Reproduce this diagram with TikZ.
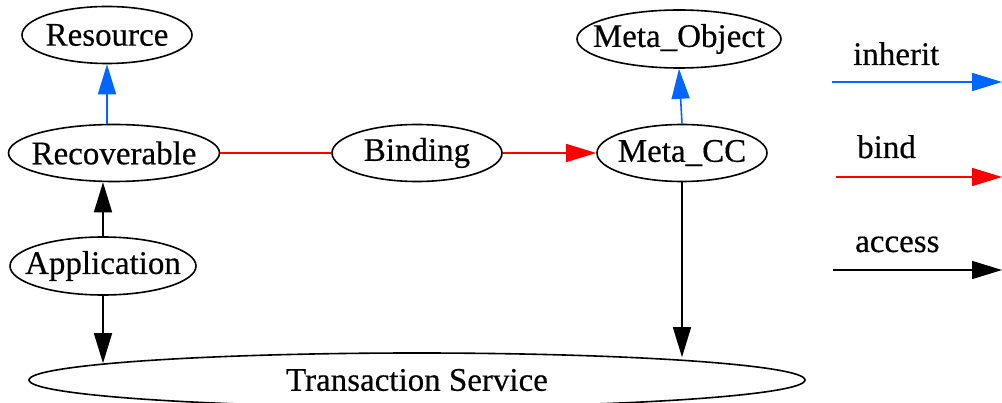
\documentclass[tikz,border=0pt]{standalone}
\usepackage{fontspec}
\setmainfont{Liberation Serif}[FakeBold=0.4]
\usepackage{tikz}
\usetikzlibrary{shapes.geometric,arrows.meta,positioning}

\definecolor{inheritblue}{RGB}{0,102,255}

\tikzset{
  obj/.style={draw, ellipse, line width=1.6pt, inner xsep=-20pt, inner ysep=0pt,
    minimum width=170pt, minimum height=57pt, font=\fontsize{33}{38}\selectfont},
  legend/.style={anchor=base west, inner sep=0pt, font=\fontsize{33}{38}\selectfont},
  tip/.style={-{Triangle[length=30pt,width=18pt]}},
  inherit/.style={tip, inheritblue, line width=1.6pt},
  bind/.style={red, line width=1.6pt},
  access/.style={tip, black, line width=1.6pt}
}

\begin{document}
\begin{tikzpicture}[x=1pt, y=-1pt]
        \useasboundingbox (0,0) rectangle (1002,403);

        \node[obj] (res) at (107,35) {Resource};
        \node[obj, minimum width=211pt] (rec) at (114,153) {Recoverable};
        \node[obj, minimum width=186pt, minimum height=58pt] (app) at (103,266) {Application};
        \node[obj] (bnd) at (417,153) {Binding};
        \node[obj] (mcc) at (682,153) {Meta\_CC};
        \node[obj, minimum width=204pt, minimum height=58pt] (mob) at (679,39) {Meta\_Object};
        \node[obj, minimum width=776pt, minimum height=54pt] (ts) at (417,380) {Transaction Service};

        % legend
        \node[legend] (inhtext) at (853,65) {inherit};
        \node[legend] (bndtext) at (857,158) {bind};
        \node[legend] (acctext) at (855,252) {access};
        \coordinate (inh0) at (832,82);
        \coordinate (inh1) at (1002,82);
        \coordinate (bnd0) at (836,177);
        \coordinate (bnd1) at (1002,177);
        \coordinate (acc0) at (833,270);
        \coordinate (acc1) at (1002,270);

        \draw[inherit] (rec.north -| res.south) -- (res.south);
        \draw[inherit] (mcc.north) -- (mob.south);
        \draw[bind] (rec.east) -- (bnd.west);
        \draw[bind, tip] (bnd.east) -- (mcc.west);
        \draw[access] (app.north) -- (app.north |- rec.south);
        \draw[access, shorten >=-11pt] (app.south) -- (app.south |- ts.north);
        \draw[access, shorten >=-5pt] (mcc.south) -- (mcc.south |- ts.north);

        \draw[inherit] (inh0) -- (inh1);
        \draw[bind, tip] (bnd0) -- (bnd1);
        \draw[access] (acc0) -- (acc1);
  \end{tikzpicture}
\end{document}
